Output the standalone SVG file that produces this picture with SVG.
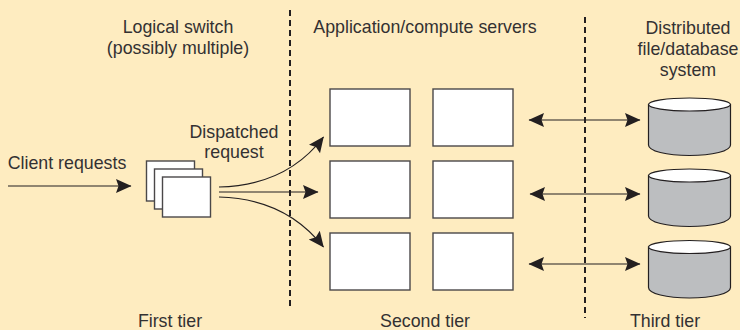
<svg xmlns="http://www.w3.org/2000/svg" width="740" height="330" viewBox="0 0 740 330">
<defs>
<marker id="ah" markerUnits="userSpaceOnUse" markerWidth="16" markerHeight="16" refX="15" refY="8" orient="auto-start-reverse" viewBox="0 0 16 16"><path d="M0 1 L15.500 8 L0 15 L2.500 8 Z" fill="#231f20"/></marker>
<g id="cyl"><path class="cb" d="M0 6.500 V47 C0 53 18 57.500 41 57.500 C64 57.500 82 53 82 47 V6.500 Z"/><ellipse class="ct" cx="41" cy="6.500" rx="41" ry="6.500"/></g>
</defs>
<style>
text{font-family:"Liberation Sans",Arial,sans-serif;font-size:17.800px;fill:#333132;text-anchor:middle}
.b{fill:#fff;stroke:#4a4849;stroke-width:1.400}
.cb{fill:#bcbec0;stroke:#231f20;stroke-width:1.200}
.ct{fill:#fff;stroke:#231f20;stroke-width:1.200}
.l{fill:none;stroke:#231f20;stroke-width:1.200}
.ar{marker-end:url(#ah)}
.dbl{marker-start:url(#ah);marker-end:url(#ah)}
.d{fill:none;stroke:#231f20;stroke-width:2;stroke-dasharray:6 4}
</style>
<rect width="740" height="330" fill="#feecc0"/>
<g id="connectors">
<path class="d" d="M290 10 V310"/>
<path class="d" d="M585 17 V318"/>
<path class="l ar" d="M8 186 H131"/>
<path class="l ar" d="M219 187 C265 186 300 168 323.500 137"/>
<path class="l ar" d="M219 192 H318"/>
<path class="l ar" d="M219 197 C265 198 300 217 323.500 247"/>
<path class="l dbl" d="M529 120 H640"/>
<path class="l dbl" d="M530 194 H640"/>
<path class="l dbl" d="M529 264 H640"/>
</g>
<g id="switch">
<rect class="b" x="146.500" y="161" width="48" height="40"/>
<rect class="b" x="154.500" y="169" width="48" height="40"/>
<rect class="b" x="162.500" y="177" width="48" height="40"/>
</g>
<g id="s1"><rect class="b" x="330" y="89" width="80" height="57"/></g>
<g id="s2"><rect class="b" x="433" y="89" width="80" height="57"/></g>
<g id="s3"><rect class="b" x="330" y="161" width="80" height="57"/></g>
<g id="s4"><rect class="b" x="433" y="161" width="80" height="57"/></g>
<g id="s5"><rect class="b" x="330" y="233" width="80" height="57"/></g>
<g id="s6"><rect class="b" x="433" y="233" width="80" height="57"/></g>
<g id="db1"><use href="#cyl" x="648.500" y="98"/></g>
<g id="db2"><use href="#cyl" x="648.500" y="169"/></g>
<g id="db3"><use href="#cyl" x="648.500" y="240.500"/></g>
<g id="labels">
<text x="178" y="33">Logical switch</text>
<text x="178" y="54">(possibly multiple)</text>
<text x="425" y="33">Application/compute servers</text>
<text x="688" y="34">Distributed</text>
<text x="688" y="55">file/database</text>
<text x="688" y="76">system</text>
<text x="234" y="138">Dispatched</text>
<text x="234" y="158">request</text>
<text x="67" y="169">Client requests</text>
<text x="170" y="327">First tier</text>
<text x="425" y="327">Second tier</text>
<text x="665" y="327">Third tier</text>
</g>
</svg>
